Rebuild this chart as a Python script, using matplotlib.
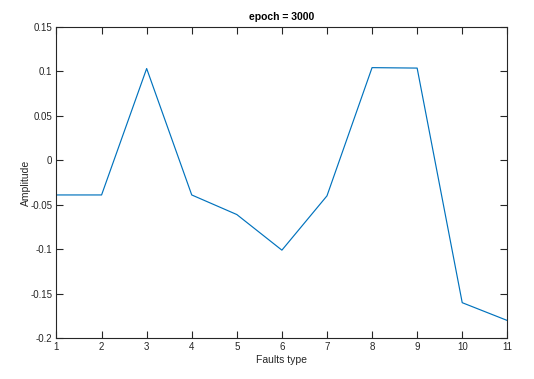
import numpy as np
import matplotlib.pyplot as plt

# datos
fault_type = [1, 2, 3, 4, 5, 6, 7, 8, 9, 10, 11]
amplitude = [-0.039, -0.039, 0.103, -0.039, -0.061, -0.101, -0.040, 0.104, 0.1035, -0.160, -0.180]
y_ticks = [-0.2, -0.15, -0.1, -0.05, 0, 0.05, 0.1, 0.15]
y_tick_labels = ['-0.2', '-0.15', '-0.1', '-0.05', '0', '0.05', '0.1', '0.15']

plt.rcParams['font.family'] = ['Liberation Sans', 'DejaVu Sans']

fig = plt.figure(figsize=(5.34, 3.79), dpi=100)
ax = fig.add_axes([0.1058, 0.1074, 0.8442, 0.8222])

ax.plot(fault_type, amplitude, color='#0072BD', linewidth=0.85)

ax.set_xlim(1, 11)
ax.set_ylim(-0.2, 0.15)
ax.set_xticks(fault_type)
ax.set_yticks(y_ticks)
ax.set_yticklabels(y_tick_labels)

gris = '#262626'
for s in ax.spines.values():
    s.set_color(gris)
    s.set_linewidth(0.8)
ax.tick_params(direction='in', length=5, width=0.8, color=gris, labelcolor=gris,
               labelsize=7, top=True, right=True, pad=3)

ax.set_title('epoch = 3000', fontsize=7.5, fontweight='bold', color='black', pad=5)
ax.set_xlabel('Faults type', fontsize=7.5, color=gris, labelpad=2)
ax.set_ylabel('Amplitude', fontsize=7.5, color=gris)
ax.yaxis.set_label_coords(-0.057, 0.5)

fig.savefig('out.png', dpi=100)
